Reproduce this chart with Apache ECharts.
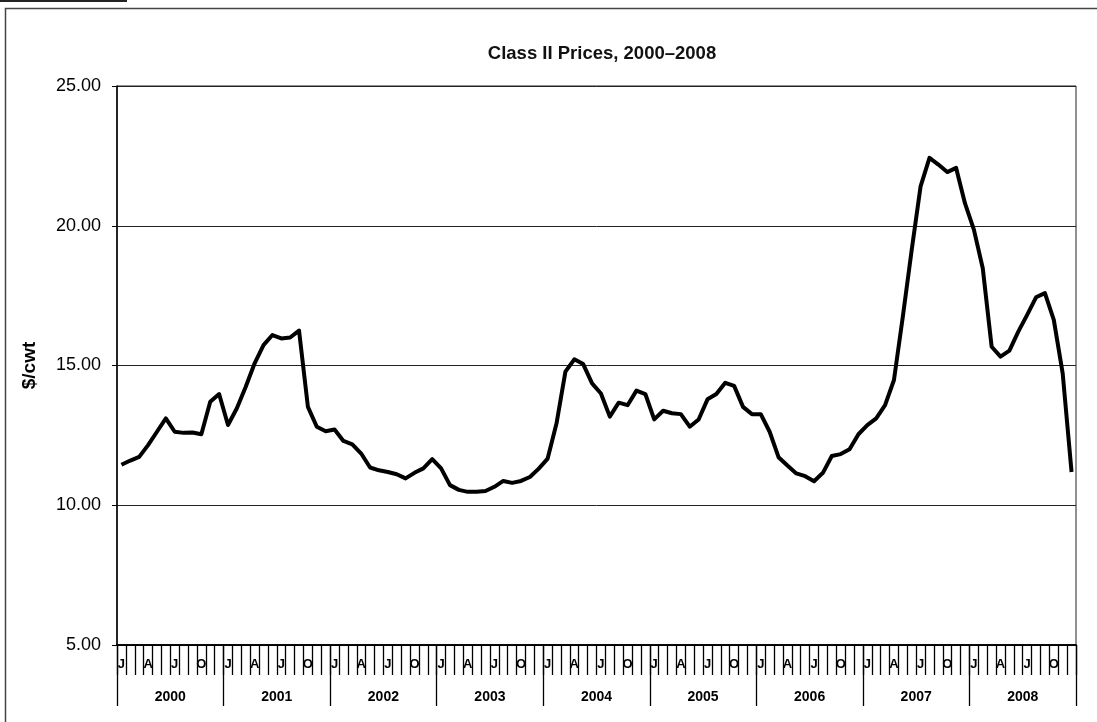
<!DOCTYPE html>
<html>
<head>
<meta charset="utf-8">
<script src="https://cdn.jsdelivr.net/npm/echarts@6/dist/echarts.min.js"></script>
<style>
  html, body { margin: 0; padding: 0; background: #fff; }
  #chart { width: 1097px; height: 722px; }
</style>
</head>
<body>
<div id="chart"></div>
<script>
const years = ['2000', '2001', '2002', '2003', '2004', '2005', '2006', '2007', '2008'];
const monthLetters = ['J', 'F', 'M', 'A', 'M', 'J', 'J', 'A', 'S', 'O', 'N', 'D'];
const yTicks = [5, 10, 15, 20, 25];

// Class II price, $/cwt, by month
const prices2000 = [11.45, 11.60, 11.73, 12.15, 12.63, 13.11, 12.63, 12.59, 12.60, 12.54, 13.70, 13.98];
const prices2001 = [12.87, 13.47, 14.24, 15.08, 15.73, 16.09, 15.97, 16.00, 16.25, 13.52, 12.81, 12.65];
const prices2002 = [12.71, 12.30, 12.18, 11.85, 11.35, 11.25, 11.19, 11.11, 10.96, 11.16, 11.32, 11.65];
const prices2003 = [11.32, 10.72, 10.55, 10.48, 10.48, 10.51, 10.66, 10.87, 10.80, 10.87, 11.01, 11.31];
const prices2004 = [11.67, 12.93, 14.78, 15.22, 15.05, 14.36, 14.00, 13.17, 13.67, 13.58, 14.10, 13.98];
const prices2005 = [13.07, 13.38, 13.29, 13.26, 12.81, 13.07, 13.79, 13.98, 14.38, 14.27, 13.52, 13.26];
const prices2006 = [13.26, 12.63, 11.72, 11.42, 11.14, 11.04, 10.86, 11.16, 11.76, 11.83, 12.00, 12.54];
const prices2007 = [12.87, 13.11, 13.58, 14.48, 16.75, 19.14, 21.41, 22.43, 22.19, 21.92, 22.07, 20.80];
const prices2008 = [19.86, 18.48, 15.67, 15.32, 15.53, 16.21, 16.81, 17.44, 17.59, 16.63, 14.72, 11.19];

const prices = [].concat(prices2000, prices2001, prices2002, prices2003, prices2004,
    prices2005, prices2006, prices2007, prices2008);

// one category per month, letter shown only for J, A, J, O
const months = [];
years.forEach(() => monthLetters.forEach(m => months.push(m)));

const font = '"Liberation Sans", Arial, sans-serif';

const chart = echarts.init(document.getElementById('chart'));
chart.setOption({
    animation: false,
    backgroundColor: '#fff',
    title: {
        text: 'Class II Prices, 2000\u20132008',
        left: 597,
        top: 39,
        textAlign: 'center',
        textStyle: { fontFamily: font, fontSize: 18.5, fontWeight: 'bold', color: '#111' }
    },
    graphic: [
        { type: 'rect', shape: { x: 0, y: 0, width: 127, height: 2 }, style: { fill: '#222' } },
        { type: 'rect', shape: { x: 5.5, y: 8.5, width: 1200, height: 800 },
          style: { fill: 'none', stroke: '#444', lineWidth: 1.5 }, silent: true }
    ],
    grid: {
        left: 117, right: 21, top: 86, bottom: 77,
        show: true, borderColor: '#222', borderWidth: 1
    },
    xAxis: [
        {
            type: 'category',
            data: months,
            boundaryGap: true,
            axisLine: { show: true, onZero: false, lineStyle: { color: '#000', width: 1.5 } },
            axisTick: { show: true, interval: 0, length: 30, lineStyle: { color: '#000', width: 1.3 } },
            axisLabel: {
                show: true,
                interval: (i) => i % 3 === 0,
                margin: 13,
                fontFamily: font, fontSize: 13, fontWeight: 'bold', color: '#000'
            }
        },
        {
            type: 'category',
            data: years,
            position: 'bottom',
            boundaryGap: true,
            axisLine: { show: true, onZero: false, lineStyle: { color: '#000', width: 1.5 } },
            axisTick: { show: true, interval: 0, length: 61, lineStyle: { color: '#000', width: 1.3 } },
            axisLabel: {
                show: true,
                interval: 0,
                margin: 45,
                fontFamily: font, fontSize: 14, fontWeight: 'bold', color: '#000'
            }
        }
    ],
    yAxis: {
        type: 'value',
        min: yTicks[0],
        max: yTicks[yTicks.length - 1],
        interval: 5,
        name: '$/cwt',
        nameLocation: 'middle',
        nameGap: 78,
        nameTextStyle: { fontFamily: font, fontSize: 19, fontWeight: 'bold', color: '#000' },
        axisLine: { show: true, lineStyle: { color: '#000', width: 1.5 } },
        axisTick: { show: true, length: 5, lineStyle: { color: '#000' } },
        axisLabel: {
            margin: 16,
            formatter: (v) => v.toFixed(2),
            fontFamily: font, fontSize: 18, color: '#000'
        },
        splitLine: { show: true, lineStyle: { color: '#222', width: 1 } }
    },
    series: [{
        type: 'line',
        data: prices,
        xAxisIndex: 0,
        showSymbol: false,
        symbol: 'none',
        lineStyle: { color: '#000', width: 4, join: 'round' }
    }]
});
</script>
</body>
</html>
